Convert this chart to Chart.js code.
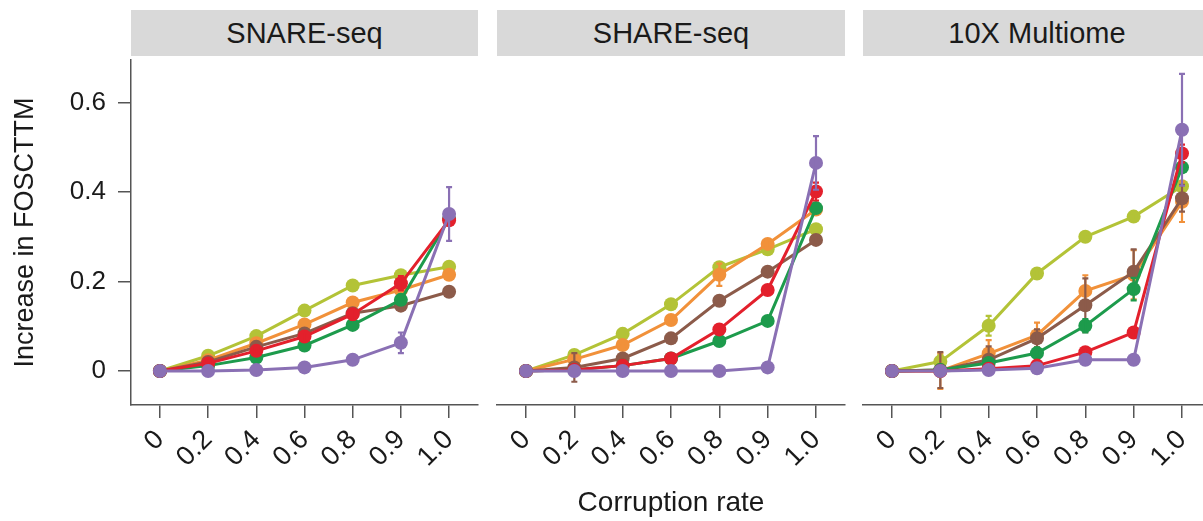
<!DOCTYPE html>
<html>
<head>
<meta charset="utf-8">
<script src="https://cdn.jsdelivr.net/npm/chart.js@4.4.0/dist/chart.umd.min.js"></script>
<style>
  html, body { margin: 0; padding: 0; background: #fff; overflow: hidden; width: 1203px; height: 521px; }
  #wrap { position: relative; width: 1203px; height: 521px; overflow: hidden; }
  canvas { position: absolute; top: 0; }
  .strip {
    position: absolute; top: 10px; height: 46px; line-height: 46px;
    background: #d9d9d9; color: #1a1a1a; text-align: center;
    font-family: "Liberation Sans", Arial, sans-serif; font-size: 29px;
  }
</style>
</head>
<body>
<div id="wrap">
  <div class="strip" id="strip0" style="left:131px;width:347px"></div>
  <div class="strip" id="strip1" style="left:497px;width:348px"></div>
  <div class="strip" id="strip2" style="left:863px;width:348px"></div>
  <!-- los puntos añaden 7px de margen a cada lado del área -->
  <canvas id="c0" width="485" height="521" style="left:0"></canvas>
  <canvas id="c1" width="362" height="521" style="left:490px"></canvas>
  <canvas id="c2" width="362" height="521" style="left:856px"></canvas>
</div>
<script>
// categorías del eje x y títulos de cada panel
const rates = ["0", "0.2", "0.4", "0.6", "0.8", "0.9", "1.0"];
const panelTitles = ["SNARE-seq", "SHARE-seq", "10X Multiome"];
const yTicks = [0, 0.2, 0.4, 0.6];

// orden de las series: purple, red, green, brown, orange, lime
const seriesNames = ["purple", "red", "green", "brown", "orange", "lime"];

// SNARE-seq
const snareValues = [
  [0, 0, 0.002, 0.008, 0.025, 0.063, 0.351],
  [0, 0.017, 0.045, 0.077, 0.127, 0.196, 0.337],
  [0, 0.012, 0.030, 0.057, 0.103, 0.159, 0.340],
  [0, 0.020, 0.054, 0.084, 0.129, 0.146, 0.177],
  [0, 0.024, 0.062, 0.104, 0.153, 0.181, 0.215],
  [0, 0.034, 0.078, 0.135, 0.191, 0.214, 0.233],
];
const snareErrors = [
  [0, 0, 0, 0, 0, 0.023, 0.06],
  [0, 0.004, 0.006, 0.01, 0.012, 0.016, 0.01],
  [0, 0, 0, 0, 0, 0, 0],
  [0, 0, 0, 0, 0, 0, 0],
  [0, 0, 0, 0, 0, 0, 0],
  [0, 0, 0, 0, 0, 0, 0],
];

// SHARE-seq
const shareValues = [
  [0, 0, 0, 0, 0, 0.008, 0.465],
  [0, 0.003, 0.012, 0.028, 0.093, 0.181, 0.401],
  [0, 0.003, 0.012, 0.028, 0.067, 0.112, 0.364],
  [0, 0.008, 0.028, 0.073, 0.157, 0.222, 0.293],
  [0, 0.026, 0.058, 0.114, 0.215, 0.284, 0.361],
  [0, 0.036, 0.083, 0.149, 0.232, 0.272, 0.317],
];
const shareErrors = [
  [0, 0, 0, 0, 0, 0, 0.06],
  [0, 0, 0, 0, 0, 0, 0.02],
  [0, 0, 0, 0, 0, 0, 0],
  [0, 0.032, 0.006, 0.006, 0.006, 0.006, 0.006],
  [0, 0.004, 0.004, 0.006, 0.025, 0.008, 0.006],
  [0, 0, 0, 0, 0, 0, 0],
];

// 10X Multiome
const multiomeValues = [
  [0, 0, 0.002, 0.006, 0.025, 0.025, 0.539],
  [0, 0, 0.005, 0.012, 0.042, 0.086, 0.486],
  [0, 0.002, 0.018, 0.040, 0.101, 0.183, 0.455],
  [0, 0.002, 0.025, 0.073, 0.147, 0.222, 0.386],
  [0, 0, 0.039, 0.080, 0.179, 0.215, 0.378],
  [0, 0.021, 0.101, 0.218, 0.300, 0.345, 0.413],
];
const multiomeErrors = [
  [0, 0, 0, 0, 0, 0.01, 0.125],
  [0, 0, 0, 0, 0.008, 0.01, 0.02],
  [0, 0.005, 0.005, 0.008, 0.015, 0.025, 0.01],
  [0, 0.04, 0.03, 0.02, 0.06, 0.05, 0.03],
  [0, 0.04, 0.03, 0.028, 0.035, 0.055, 0.045],
  [0, 0.015, 0.022, 0.008, 0.006, 0.008, 0.01],
];

const seriesColors = ["#8a70b4", "#e3202c", "#1d9b4c", "#8c5b4a", "#f1913a", "#b3c337"];
const fontFamily = '"Liberation Sans", Arial, sans-serif';
const axisColor = "#555555";

// barras de error, dibujadas junto con cada serie
const errorBars = {
  id: "errorBars",
  afterDatasetDraw(chart, args) {
    const ds = chart.data.datasets[args.index];
    if (!ds.errors) return;
    const xs = chart.scales.x;
    const ys = chart.scales.y;
    const ctx = chart.ctx;
    ctx.save();
    ctx.strokeStyle = ds.borderColor;
    ctx.lineWidth = 2.2;
    ds.data.forEach((p, i) => {
      const e = ds.errors[i];
      if (!e) return;
      const x = xs.getPixelForValue(p.x);
      const y1 = ys.getPixelForValue(p.y - e);
      const y2 = ys.getPixelForValue(p.y + e);
      ctx.beginPath();
      ctx.moveTo(x, y1); ctx.lineTo(x, y2);
      ctx.moveTo(x - 3, y1); ctx.lineTo(x + 3, y1);
      ctx.moveTo(x - 3, y2); ctx.lineTo(x + 3, y2);
      ctx.stroke();
    });
    ctx.restore();
  },
};

function buildDatasets(values, errors) {
  return values.map((serie, s) => ({
    label: seriesNames[s],
    data: serie.map((v, i) => ({ x: i, y: v })),
    errors: errors[s],
    borderColor: seriesColors[s],
    backgroundColor: seriesColors[s],
    pointBackgroundColor: seriesColors[s],
    borderWidth: 3,
    pointRadius: 7,
    pointBorderWidth: 0,
    tension: 0,
    clip: false,
  }));
}

function makePanel(canvasId, values, errors, showY, showXTitle) {
  const ctx = document.getElementById(canvasId).getContext("2d");
  return new Chart(ctx, {
    type: "line",
    data: { datasets: buildDatasets(values, errors) },
    plugins: [errorBars],
    options: {
      responsive: false,
      animation: false,
      layout: { padding: { top: 60, left: 0, right: 0, bottom: 0 } },
      plugins: { legend: { display: false }, tooltip: { enabled: false } },
      scales: {
        x: {
          type: "linear",
          min: -0.6,
          max: 6.6,
          afterBuildTicks: (axis) => {
            axis.ticks = rates.map((r, i) => ({ value: i }));
          },
          afterFit: (axis) => {
            axis.height = 116;
            axis.paddingLeft = 0;
            axis.paddingRight = 0;
          },
          ticks: {
            autoSkip: false,
            minRotation: 45,
            maxRotation: 45,
            padding: 6,
            color: "#1a1a1a",
            font: { family: fontFamily, size: 27 },
            callback: (v) => rates[v],
          },
          grid: {
            drawOnChartArea: false,
            drawTicks: true,
            tickLength: 13,
            color: axisColor,
            lineWidth: 1.5,
          },
          border: { display: true, color: axisColor, width: 1.5 },
          title: {
            display: showXTitle,
            text: "Corruption rate",
            color: "#1a1a1a",
            font: { family: fontFamily, size: 28 },
            padding: { top: 0, bottom: 1 },
          },
        },
        y: {
          display: showY,
          min: -0.076,
          max: 0.695,
          afterBuildTicks: (axis) => {
            axis.ticks = yTicks.map((v) => ({ value: v }));
          },
          afterFit: (axis) => {
            axis.width = showY ? 131 : 0;
            axis.paddingTop = 0;
            axis.paddingBottom = 0;
          },
          ticks: {
            padding: 12,
            color: "#1a1a1a",
            font: { family: fontFamily, size: 26 },
            callback: (v) => (v === 0 ? "0" : v.toFixed(1)),
          },
          grid: {
            drawOnChartArea: false,
            drawTicks: true,
            tickLength: 13,
            color: axisColor,
            lineWidth: 1.5,
          },
          border: { display: true, color: axisColor, width: 1.5 },
          title: {
            display: true,
            text: "Increase in FOSCTTM",
            color: "#1a1a1a",
            font: { family: fontFamily, size: 27 },
            padding: { top: 9, bottom: 0 },
          },
        },
      },
    },
  });
}

panelTitles.forEach((t, i) => {
  document.getElementById("strip" + i).textContent = t;
});

makePanel("c0", snareValues, snareErrors, true, false);
makePanel("c1", shareValues, shareErrors, false, true);
makePanel("c2", multiomeValues, multiomeErrors, false, false);
</script>
</body>
</html>
